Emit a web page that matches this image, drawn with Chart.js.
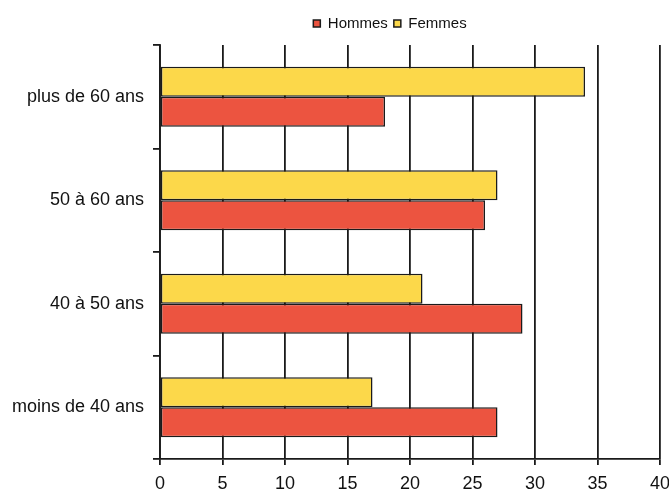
<!DOCTYPE html>
<html>
<head>
<meta charset="utf-8">
<script src="https://cdn.jsdelivr.net/npm/chart.js@4/dist/chart.umd.min.js"></script>
<style>
  html, body { margin: 0; padding: 0; background: #fff; }
  #wrap { width: 669px; height: 491px; position: relative; }
</style>
</head>
<body>
<div id="wrap"><canvas id="c"></canvas></div>
<script>
// Age groups, top to bottom
const categories = ['plus de 60 ans', '50 à 60 ans', '40 à 50 ans', 'moins de 40 ans'];
// Percentages per group
const femmes = [34, 27, 21, 17];
const hommes = [18, 26, 29, 27];
// Horizontal axis ticks
const xTicks = [0, 5, 10, 15, 20, 25, 30, 35, 40];

Chart.defaults.font.family = "'Liberation Sans', Arial, sans-serif";
Chart.defaults.color = '#1a1a1a';

// Fixed legend band height, and legend centred over the right-hand part of the chart
const legendLayout = {
  id: 'legendLayout',
  beforeInit(chart) {
    const lg = chart.legend;
    if (!lg) return;
    const fit = lg.fit.bind(lg);
    lg.fit = function () { fit(); this.height = 35; };
  },
  afterLayout(chart) {
    const lg = chart.legend;
    if (lg) { lg.left = 120; }
  }
};

new Chart(document.getElementById('c'), {
  type: 'bar',
  data: {
    labels: categories,
    datasets: [
      {
        label: 'Femmes',
        data: femmes,
        backgroundColor: '#FCD84A',
        borderColor: '#1b1b1b',
        borderWidth: 1.5,
        borderSkipped: false
      },
      {
        label: 'Hommes',
        data: hommes,
        backgroundColor: '#EC5440',
        borderColor: '#1b1b1b',
        borderWidth: 1.5,
        borderSkipped: false
      }
    ]
  },
  options: {
    indexAxis: 'y',
    responsive: true,
    maintainAspectRatio: false,
    animation: false,
    datasets: { bar: { barPercentage: 1, categoryPercentage: 0.58 } },
    layout: { padding: { top: 10, left: 0, right: 9, bottom: 0 } },
    plugins: {
      tooltip: { enabled: false },
      legend: {
        position: 'top',
        reverse: true,
        labels: {
          boxWidth: 7,
          boxHeight: 7,
          padding: 6,
          color: '#111',
          font: { size: 15 }
        }
      }
    },
    scales: {
      x: {
        type: 'linear',
        min: 0,
        max: 40,
        afterBuildTicks(scale) { scale.ticks = xTicks.map(v => ({ value: v })); },
        afterFit(scale) {
          scale.height = 32;
          scale.paddingLeft = 0;
          scale.paddingRight = 0;
        },
        grid: {
          color: '#1a1a1a',
          lineWidth: 1.8,
          tickLength: 6,
          tickColor: '#1a1a1a'
        },
        border: { display: true, color: '#1a1a1a', width: 1.8 },
        ticks: {
          padding: 8,
          color: '#111',
          font: { size: 18 }
        }
      },
      y: {
        type: 'category',
        afterFit(scale) { scale.width = 160; },
        grid: {
          offset: true,
          drawOnChartArea: false,
          tickLength: 7,
          color: '#1a1a1a',
          lineWidth: 1.8
        },
        border: { display: true, color: '#1a1a1a', width: 1.8 },
        ticks: {
          padding: 9,
          color: '#111',
          font: { size: 18 }
        }
      }
    }
  },
  plugins: [legendLayout]
});
</script>
</body>
</html>
